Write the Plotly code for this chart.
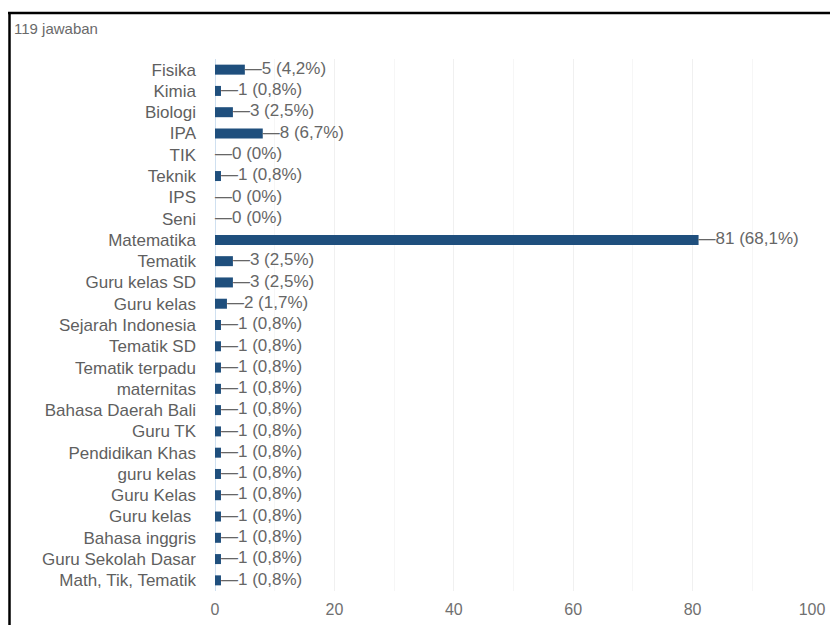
import plotly.graph_objects as go

categories = ["Fisika", "Kimia", "Biologi", "IPA", "TIK", "Teknik", "IPS", "Seni",
              "Matematika", "Tematik", "Guru kelas SD", "Guru kelas", "Sejarah Indonesia",
              "Tematik SD", "Tematik terpadu", "maternitas", "Bahasa Daerah Bali", "Guru TK",
              "Pendidikan Khas", "guru kelas", "Guru Kelas", "Guru kelas ", "Bahasa inggris",
              "Guru Sekolah Dasar", "Math, Tik, Tematik"]
values = [5, 1, 3, 8, 0, 1, 0, 0, 81, 3, 3, 2, 1, 1, 1, 1, 1, 1, 1, 1, 1, 1, 1, 1, 1]
pct_labels = ["4,2%", "0,8%", "2,5%", "6,7%", "0%", "0,8%", "0%", "0%", "68,1%", "2,5%",
              "2,5%", "1,7%", "0,8%", "0,8%", "0,8%", "0,8%", "0,8%", "0,8%", "0,8%",
              "0,8%", "0,8%", "0,8%", "0,8%", "0,8%", "0,8%"]
tick_vals = [0, 20, 40, 60, 80, 100]
total_text = "119 jawaban"

labels = ["\u2014" + f"{v} ({p})" for v, p in zip(values, pct_labels)]

FONT = "Arial, Liberation Sans, sans-serif"

fig = go.Figure()
fig.add_trace(go.Bar(
    x=values, y=categories, orientation="h",
    marker=dict(color="#1f4f7d", line=dict(width=0)),
    width=0.47, hoverinfo="skip",
))
fig.add_trace(go.Scatter(
    x=values, y=categories, mode="text", text=labels,
    textposition="middle right",
    textfont=dict(family=FONT, size=17, color="#666666"),
    hoverinfo="skip", cliponaxis=False,
))

BW, BH = 830, 625
L, R, T, B = 215, 18, 59, 34
pw = BW - L - R
ph = BH - T - B

def px_to_paper_x(px):
    return (px - L) / pw

def px_to_paper_y(py):
    return (BH - B - py) / ph

n = len(categories)
fig.update_layout(
    width=BW, height=BH,
    margin=dict(l=L, r=R, t=T, b=B, autoexpand=False),
    paper_bgcolor="white", plot_bgcolor="white",
    showlegend=False,
    font=dict(family=FONT, size=17, color="#5f5f5f"),
    xaxis=dict(range=[0, 100], tickvals=tick_vals, showgrid=True, gridcolor="#f0f0f0",
               minor=dict(dtick=10, showgrid=True, gridcolor="#f6f6f6"),
               zeroline=True, zerolinecolor="#cfe0f0", zerolinewidth=1,
               tickfont=dict(size=16, color="#707070"), ticks="", showline=False,
               ticklabelstandoff=7, automargin=False),
    yaxis=dict(categoryorder="array", categoryarray=categories[::-1],
               range=[-0.5, n - 0.5],
               ticks="", showgrid=False, tickfont=dict(size=17, color="#5f5f5f"),
               ticklabelstandoff=18, automargin=False),
    shapes=[
        dict(type="line", xref="paper", yref="paper",
             x0=px_to_paper_x(8), x1=px_to_paper_x(832),
             y0=px_to_paper_y(13), y1=px_to_paper_y(13),
             line=dict(color="black", width=2.5)),
        dict(type="line", xref="paper", yref="paper",
             x0=px_to_paper_x(9.5), x1=px_to_paper_x(9.5),
             y0=px_to_paper_y(12), y1=px_to_paper_y(630),
             line=dict(color="black", width=2.5)),
    ],
    annotations=[
        dict(text=total_text, xref="paper", yref="paper",
             x=px_to_paper_x(12), y=px_to_paper_y(29), xanchor="left", yanchor="middle",
             showarrow=False, font=dict(size=15, color="#6a6a6a")),
    ],
)

fig.write_html("out.html")
